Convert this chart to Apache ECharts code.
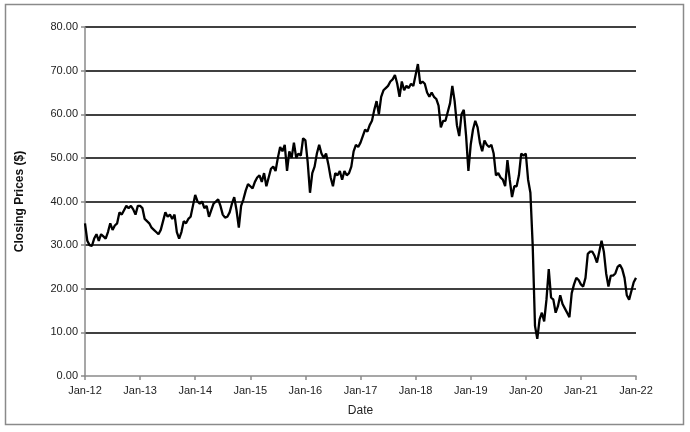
<!DOCTYPE html>
<html>
<head>
<meta charset="utf-8">
<script src="https://cdn.jsdelivr.net/npm/echarts@6/dist/echarts.min.js"></script>
<style>
  body { margin: 0; background: #fff; }
  #main { width: 690px; height: 432px; }
</style>
</head>
<body>
<div id="main"></div>
<script>
// closing prices, roughly two readings per month
var p2012 = [35, 31, 30, 29.8, 31.5, 32.5, 31, 32.5, 32, 31.5, 33, 35, 33.5, 34.5, 35, 37.5, 37, 38, 39, 38.5, 39, 38.2, 37, 39];
var p2013 = [39, 38.5, 36, 35.5, 35, 34, 33.5, 33, 32.5, 33.5, 35.5, 37.5, 36.5, 37, 36, 37, 33, 31.5, 33, 35.5, 35, 36, 36.5, 39];
var p2014 = [41.5, 40, 39.5, 40, 38.5, 39, 36.5, 38, 39.5, 40, 40.5, 39, 37, 36.3, 36.5, 37.5, 39.5, 41, 38, 34, 39, 40.5, 42.5, 44];
var p2015 = [43.5, 43, 44.5, 45.5, 46, 44.5, 46.5, 43.5, 45.5, 47.5, 48, 47, 50, 52.5, 51.5, 53, 47, 51.5, 50, 53.5, 50, 51, 50.5, 54.5];
var p2016 = [54, 49, 42, 46.5, 48, 51, 53, 51, 50, 51, 48.5, 45.5, 43.5, 46.5, 46, 47, 45, 47, 46, 46.5, 48, 51.5, 53, 52.5];
var p2017 = [53.5, 55, 56.5, 56, 57.5, 58.5, 61, 63, 60, 64, 65.5, 66, 66.5, 67.5, 68, 69, 67, 64, 67.5, 65.5, 66.5, 66, 67, 66.5];
var p2018 = [69, 71.5, 67, 67.5, 67, 65, 64, 65, 64, 63.5, 62, 57, 58.5, 58.5, 60.5, 62.5, 66.5, 63, 57.5, 55, 60, 61, 55, 47];
var p2019 = [53, 56.5, 58.5, 57, 53.5, 51.5, 54, 53, 52.5, 53, 51, 46, 46.5, 45.5, 45, 43.5, 49.5, 45, 41, 43.5, 43.5, 46, 51, 50.5];
var p2020 = [51, 45, 42, 30, 11.5, 8.5, 13, 14.5, 12.5, 17.5, 24.5, 18, 17.5, 14.5, 16, 18.5, 16.5, 15.5, 14.5, 13.5, 19, 21, 22.5, 22];
var p2021 = [21, 20.5, 22.5, 28, 28.5, 28.5, 27.5, 26, 28.5, 31, 28.5, 23.5, 20.5, 23, 23, 23.5, 25, 25.5, 24.5, 22.5, 18.5, 17.5, 19.5, 21.5];
var pLast = 22.5;

var years = [2012, 2013, 2014, 2015, 2016, 2017, 2018, 2019, 2020, 2021];
var prices = [p2012, p2013, p2014, p2015, p2016, p2017, p2018, p2019, p2020, p2021];

var yTicks = [0, 10, 20, 30, 40, 50, 60, 70, 80];

var data = [];
for (var k = 0; k < years.length; k++) {
  for (var i = 0; i < prices[k].length; i++) {
    data.push([years[k] + i / prices[k].length, prices[k][i]]);
  }
}
data.push([2022, pLast]);

var myChart = echarts.init(document.getElementById("main"));
myChart.setOption({
  animation: false,
  textStyle: { fontFamily: "Liberation Sans" },
  graphic: [
    {
      type: "rect",
      shape: { x: 5.5, y: 4.5, width: 678, height: 420 },
      style: { fill: "none", stroke: "#8a8a8a", lineWidth: 1.5 },
    },
  ],
  grid: { left: 85, right: 54, top: 27, bottom: 56 },
  xAxis: {
    type: "value",
    min: 2012,
    max: 2022,
    interval: 1,
    name: "Date",
    nameLocation: "middle",
    nameGap: 29,
    nameTextStyle: { fontSize: 12, color: "#222" },
    axisLine: { lineStyle: { color: "#8a8a8a", width: 1.5 } },
    axisTick: { length: 4, lineStyle: { color: "#8a8a8a", width: 1.5 } },
    axisLabel: {
      margin: 9,
      fontSize: 11,
      color: "#222",
      formatter: function (v) {
        return "Jan-" + String(v).slice(2);
      },
    },
    splitLine: { show: false },
  },
  yAxis: {
    type: "value",
    min: yTicks[0],
    max: yTicks[yTicks.length - 1],
    interval: 10,
    name: "Closing Prices ($)",
    nameLocation: "middle",
    nameGap: 59,
    nameTextStyle: { fontSize: 12, fontWeight: "bold", color: "#111" },
    axisLine: { show: true, lineStyle: { color: "#8a8a8a", width: 1.5 } },
    axisTick: { show: true, length: 4, lineStyle: { color: "#8a8a8a", width: 1.5 } },
    axisLabel: {
      margin: 7,
      fontSize: 11,
      color: "#222",
      formatter: function (v) {
        return v.toFixed(2);
      },
    },
    splitLine: {
      show: true,
      showMinLine: false,
      lineStyle: { color: "#000", width: 1.5 },
    },
  },
  series: [
    {
      type: "line",
      data: data,
      symbol: "none",
      lineStyle: { color: "#000", width: 2.3 },
    },
  ],
});
</script>
</body>
</html>
